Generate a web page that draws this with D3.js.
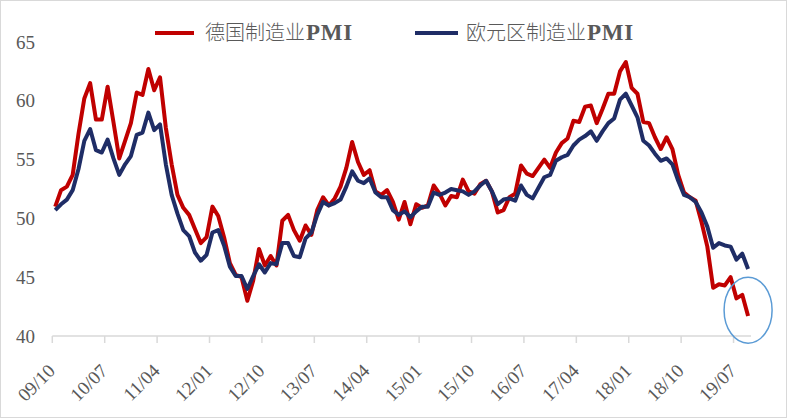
<!DOCTYPE html>
<html>
<head>
<meta charset="utf-8">
<script src="https://cdn.jsdelivr.net/npm/d3@7/dist/d3.min.js"></script>
<style>
  html, body { margin: 0; padding: 0; background: #fff; }
  svg { display: block; }
</style>
</head>
<body>
<svg id="chart" width="787" height="418"></svg>
<script>
// ---- DATA ----
const months = [
  "09/10","09/11","09/12",
  "10/01","10/02","10/03","10/04","10/05","10/06","10/07","10/08","10/09","10/10","10/11","10/12",
  "11/01","11/02","11/03","11/04","11/05","11/06","11/07","11/08","11/09","11/10","11/11","11/12",
  "12/01","12/02","12/03","12/04","12/05","12/06","12/07","12/08","12/09","12/10","12/11","12/12",
  "13/01","13/02","13/03","13/04","13/05","13/06","13/07","13/08","13/09","13/10","13/11","13/12",
  "14/01","14/02","14/03","14/04","14/05","14/06","14/07","14/08","14/09","14/10","14/11","14/12",
  "15/01","15/02","15/03","15/04","15/05","15/06","15/07","15/08","15/09","15/10","15/11","15/12",
  "16/01","16/02","16/03","16/04","16/05","16/06","16/07","16/08","16/09","16/10","16/11","16/12",
  "17/01","17/02","17/03","17/04","17/05","17/06","17/07","17/08","17/09","17/10","17/11","17/12",
  "18/01","18/02","18/03","18/04","18/05","18/06","18/07","18/08","18/09","18/10","18/11","18/12",
  "19/01","19/02","19/03","19/04","19/05","19/06","19/07","19/08","19/09"
];

const germanyPMI = [
  51.0, 52.4, 52.7,
  53.7, 57.2, 60.2, 61.5, 58.4, 58.4, 61.2, 58.2, 55.1, 56.6, 58.1, 60.7,
  60.5, 62.7, 60.9, 62.0, 57.7, 54.6, 52.0, 50.9, 50.3, 49.1, 47.9, 48.4,
  51.0, 50.2, 48.4, 46.2, 45.2, 45.0, 43.0, 44.7, 47.4, 46.0, 46.8, 46.0,
  49.8, 50.3, 49.0, 48.1, 49.4, 48.6, 50.7, 51.8, 51.1, 51.7, 52.7, 54.3,
  56.5, 54.8, 53.7, 54.1, 52.3, 52.0, 52.4, 51.4, 49.9, 51.4, 49.5, 51.2,
  50.9, 51.1, 52.8, 52.1, 51.1, 51.9, 51.8, 53.3, 52.3, 52.1, 52.9, 53.2,
  52.3, 50.5, 50.7, 51.8, 52.1, 54.5, 53.8, 53.6, 54.3, 55.0, 54.3, 55.6,
  56.4, 56.8, 58.3, 58.2, 59.5, 59.6, 58.1, 59.3, 60.6, 60.6, 62.5, 63.3,
  61.1, 60.6, 58.2, 58.1, 56.9, 55.9, 56.9, 55.9, 53.7, 52.2, 51.8, 51.5,
  49.7, 47.6, 44.1, 44.4, 44.3, 45.0, 43.2, 43.5, 41.7
];

const eurozonePMI = [
  50.7, 51.2, 51.6,
  52.4, 54.2, 56.6, 57.6, 55.8, 55.6, 56.7, 55.1, 53.7, 54.6, 55.3, 57.1,
  57.3, 59.0, 57.5, 58.0, 54.6, 52.0, 50.4, 49.0, 48.5, 47.1, 46.4, 46.9,
  48.8, 49.0, 47.7, 45.9, 45.1, 45.1, 44.0, 45.1, 46.1, 45.4, 46.2, 46.1,
  47.9, 47.9, 46.8, 46.7, 48.3, 48.8, 50.3, 51.4, 51.1, 51.3, 51.6, 52.7,
  54.0, 53.2, 53.0, 53.4, 52.2, 51.8, 51.8, 50.7, 50.3, 50.6, 50.1, 50.6,
  51.0, 51.0, 52.2, 52.0, 52.2, 52.5, 52.4, 52.3, 52.0, 52.3, 52.8, 53.2,
  52.3, 51.2, 51.6, 51.7, 51.5, 52.8, 52.0, 51.7, 52.6, 53.5, 53.7, 54.9,
  55.2, 55.4, 56.2, 56.7, 57.0, 57.4, 56.6, 57.4, 58.1, 58.5, 60.1, 60.6,
  59.6, 58.6, 56.6, 56.2, 55.5, 54.9, 55.1, 54.6, 53.2, 52.0, 51.8, 51.4,
  50.5, 49.3, 47.5, 47.9, 47.7, 47.6, 46.5, 47.0, 45.7
];

const seriesNames = ["德国制造业", "欧元区制造业"];
const tickLabels = ["09/10","10/07","11/04","12/01","12/10","13/07","14/04","15/01","15/10","16/07","17/04","18/01","18/10","19/07"];
const yTicks = [40, 45, 50, 55, 60, 65];

// ---- CHART ----
const svg = d3.select("#chart");
const W = 787, H = 418;

svg.append("rect").attr("x", 0.5).attr("y", 0.5).attr("width", W - 1).attr("height", H - 1)
  .attr("fill", "#fff").attr("stroke", "#d9d9d9").attr("stroke-width", 1);

const x = d3.scaleBand().domain(months).range([52.3, 751]).paddingInner(0).paddingOuter(0);
const y = d3.scaleLinear().domain([40, 65]).range([336, 42]);
const cx = d => x(d) + x.bandwidth() / 2;

const serifFont = "'Liberation Serif', 'Times New Roman', serif";

// y-axis labels
svg.append("g").selectAll("text").data(yTicks).join("text")
  .attr("x", 35).attr("y", d => y(d)).attr("dy", "0.35em")
  .attr("text-anchor", "end")
  .attr("font-family", serifFont).attr("font-size", 19).attr("fill", "#595959")
  .text(d => d);

// x axis line
svg.append("line").attr("x1", x.range()[0]).attr("x2", x.range()[1])
  .attr("y1", y(40)).attr("y2", y(40))
  .attr("stroke", "#d9d9d9").attr("stroke-width", 1.5);

// ticks at boundaries for the labelled categories
svg.append("g").selectAll("line").data(tickLabels).join("line")
  .attr("x1", d => x(d)).attr("x2", d => x(d))
  .attr("y1", y(40)).attr("y2", y(40) + 7)
  .attr("stroke", "#d9d9d9").attr("stroke-width", 1.5);

// x labels rotated
svg.append("g").selectAll("text").data(tickLabels).join("text")
  .attr("transform", d => `translate(${cx(d) + 1},${372}) rotate(-45)`)
  .attr("text-anchor", "end")
  .attr("font-family", serifFont).attr("font-size", 19).attr("fill", "#595959")
  .text(d => d);

// lines
const line = d3.line().x((d, i) => cx(months[i])).y(d => y(d));
const colors = ["#c00000", "#1f2d66"];

svg.append("path").datum(germanyPMI).attr("d", line)
  .attr("fill", "none").attr("stroke", colors[0]).attr("stroke-width", 4)
  .attr("stroke-linejoin", "round");
svg.append("path").datum(eurozonePMI).attr("d", line)
  .attr("fill", "none").attr("stroke", colors[1]).attr("stroke-width", 4)
  .attr("stroke-linejoin", "round");

// highlight ellipse around the last point
const lastCat = months[months.length - 1];
svg.append("ellipse")
  .attr("cx", cx(lastCat)).attr("cy", y(42.2))
  .attr("rx", 24).attr("ry", 33)
  .attr("fill", "none").attr("stroke", "#5b9bd5").attr("stroke-width", 1.5);

// legend
const legendItems = [
  { name: seriesNames[0], color: colors[0], x1: 155, x2: 194, tx: 205 },
  { name: seriesNames[1], color: colors[1], x1: 415, x2: 458, tx: 466 }
];
const lg = svg.append("g");
legendItems.forEach(it => {
  lg.append("line").attr("x1", it.x1).attr("x2", it.x2).attr("y1", 33).attr("y2", 33)
    .attr("stroke", it.color).attr("stroke-width", 4);
  const t = lg.append("text").attr("x", it.tx).attr("y", 33).attr("dy", "0.35em")
    .attr("fill", "#595959").attr("font-size", 20);
  t.append("tspan").attr("font-family", "'Noto Sans CJK SC', sans-serif").attr("font-weight", 300).text(it.name);
  t.append("tspan").attr("font-family", serifFont).attr("font-weight", "bold").attr("font-size", 23)
    .attr("letter-spacing", 0.8).attr("dx", 1).text("PMI");
});
</script>
</body>
</html>
